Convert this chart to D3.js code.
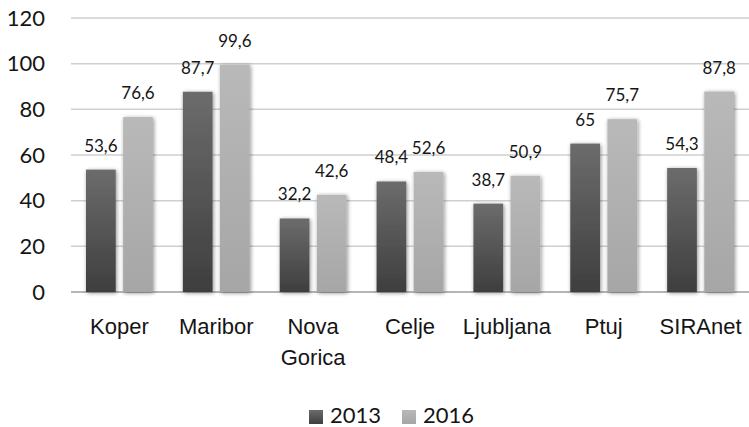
<!DOCTYPE html>
<html>
<head>
<meta charset="utf-8">
<script src="https://cdn.jsdelivr.net/npm/d3@7"></script>
<style>
	body { margin: 0; background: #fff; }
	svg { display: block; font-family: Lato, "Open Sans", sans-serif; }
</style>
</head>
<body>
<svg id="chart"></svg>
<script>
const categories = ["Koper", "Maribor", "Nova Gorica", "Celje", "Ljubljana", "Ptuj", "SIRAnet"],
	years = ["2013", "2016"],
	values2013 = [53.6, 87.7, 32.2, 48.4, 38.7, 65, 54.3],
	values2016 = [76.6, 99.6, 42.6, 52.6, 50.9, 75.7, 87.8],
	yTicks = [0, 20, 40, 60, 80, 100, 120];

const width = 749,
	height = 427,
	margin = {top: 18, right: 0, bottom: 135, left: 71};

const svg = d3.select('svg#chart')
	.attr('width', width)
	.attr('height', height);

const defs = svg.append('defs');

// bar gradients, dark at the bottom
const grad13 = defs.append('linearGradient').attr('id', 'g2013')
	.attr('x1', 0).attr('y1', 0).attr('x2', 0).attr('y2', 1);
grad13.append('stop').attr('offset', '0%').attr('stop-color', '#6c6c6c');
grad13.append('stop').attr('offset', '100%').attr('stop-color', '#3e3e3e');

const grad16 = defs.append('linearGradient').attr('id', 'g2016')
	.attr('x1', 0).attr('y1', 0).attr('x2', 0).attr('y2', 1);
grad16.append('stop').attr('offset', '0%').attr('stop-color', '#b9b9b9');
grad16.append('stop').attr('offset', '100%').attr('stop-color', '#a6a6a6');

const shadow = defs.append('filter').attr('id', 'shadow')
	.attr('x', '-30%').attr('y', '-10%').attr('width', '160%').attr('height', '120%');
shadow.append('feGaussianBlur').attr('in', 'SourceAlpha').attr('stdDeviation', 2).attr('result', 'blur');
shadow.append('feOffset').attr('dx', 1).attr('dy', 1).attr('result', 'off');
shadow.append('feComponentTransfer').append('feFuncA').attr('type', 'linear').attr('slope', 0.45);
const merge = shadow.append('feMerge');
merge.append('feMergeNode');
merge.append('feMergeNode').attr('in', 'SourceGraphic');

const x = d3.scaleBand()
	.domain(categories)
	.range([margin.left, width]);

const xInner = d3.scaleBand()
	.domain(years)
	.range([15, x.bandwidth() - 15])
	.paddingInner(0.2);

const y = d3.scaleLinear()
	.domain([0, 120])
	.range([height - margin.bottom, margin.top]);

const fmt = d3.formatLocale({decimal: ",", thousands: ".", grouping: [3], currency: ["", ""]}).format(",.1~f");

// gridlines
svg.append('g')
	.selectAll('line')
	.data(yTicks)
	.join('line')
	.attr('x1', margin.left)
	.attr('x2', width)
	.attr('y1', d => y(d))
	.attr('y2', d => y(d))
	.attr('stroke', d => d === 0 ? '#b5b5b5' : '#cfcfcf')
	.attr('stroke-width', d => d === 0 ? 2 : 1.5);

// y axis labels
const yAxis = svg.append('g')
	.attr('transform', 'translate(45,0)')
	.call(d3.axisLeft(y).tickValues(yTicks).tickSize(0).tickPadding(0));
yAxis.select('.domain').remove();
yAxis.selectAll('text')
	.attr('font-size', 22)
	.attr('font-family', 'Lato, sans-serif')
	.attr('fill', '#151515');

const series = [
	{year: "2013", values: values2013},
	{year: "2016", values: values2016}
];

const groups = svg.append('g')
	.selectAll('g')
	.data(series)
	.join('g');

groups.selectAll('rect')
	.data(s => s.values.map((v, i) => ({year: s.year, cat: categories[i], v})))
	.join('rect')
	.attr('x', d => x(d.cat) + xInner(d.year))
	.attr('width', xInner.bandwidth())
	.attr('y', d => y(d.v))
	.attr('height', d => y(0) - y(d.v))
	.attr('fill', d => `url(#g${d.year})`)
	.attr('filter', 'url(#shadow)');

groups.selectAll('text')
	.data(s => s.values.map((v, i) => ({year: s.year, cat: categories[i], v})))
	.join('text')
	.attr('x', d => x(d.cat) + xInner(d.year) + xInner.bandwidth() / 2)
	.attr('y', d => y(d.v) - 18)
	.attr('text-anchor', 'middle')
	.attr('font-size', 17)
	.attr('fill', '#151515')
	.text(d => fmt(d.v));

// category labels
const xAxis = svg.append('g')
	.attr('transform', `translate(0,${y(0)})`)
	.call(d3.axisBottom(x).tickSize(0).tickPadding(0));
xAxis.select('.domain').remove();
xAxis.selectAll('text').remove();
xAxis.selectAll('.tick').append('text')
	.attr('text-anchor', 'middle')
	.attr('font-size', 22)
	.attr('fill', '#151515')
	.selectAll('tspan')
	.data(d => d.split(' '))
	.join('tspan')
	.attr('x', 0)
	.attr('y', (d, i) => 42 + i * 31)
	.text(d => d);

// legend
const legend = svg.append('g')
	.attr('transform', 'translate(309,410)');
const legendItems = legend.selectAll('g')
	.data(years)
	.join('g')
	.attr('transform', (d, i) => `translate(${i * 93},0)`);
legendItems.append('rect')
	.attr('width', 14)
	.attr('height', 14)
	.attr('fill', d => `url(#g${d})`);
legendItems.append('text')
	.attr('x', 21)
	.attr('y', 13)
	.attr('font-size', 22)
	.attr('fill', '#151515')
	.text(d => d);
</script>
</body>
</html>
